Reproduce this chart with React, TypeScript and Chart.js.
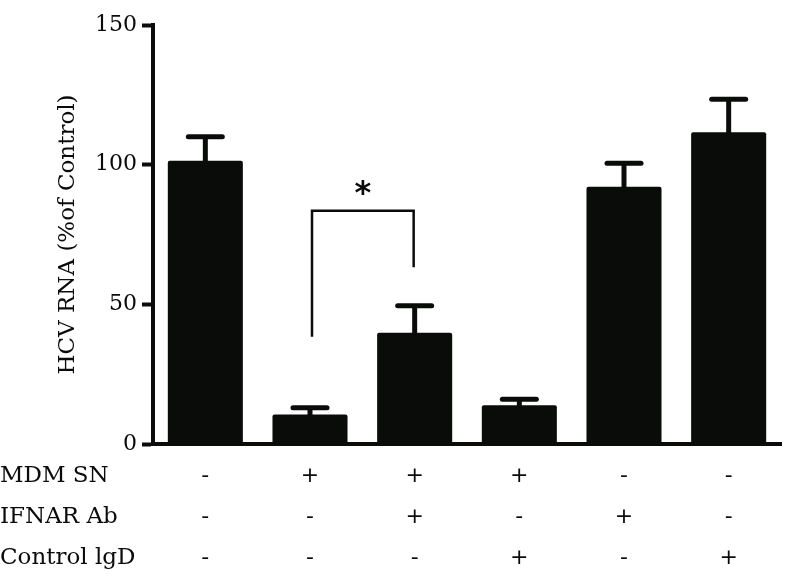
import React, { useEffect, useRef } from "react";
import { Chart, registerables } from "chart.js";

Chart.register(...registerables);

const categories = ["G1", "G2", "G3", "G4", "G5", "G6"];
const meanValues = [101.4, 10.6, 39.8, 13.9, 92.1, 111.6];
const errorTops = [110, 13, 49.5, 16, 100.5, 123.4];
const yTicks = [0, 50, 100, 150];
const rowNames = ["MDM SN", "IFNAR Ab", "Control lgD"];
const mdmRow = ["-", "+", "+", "+", "-", "-"];
const ifnarRow = ["-", "-", "+", "-", "+", "-"];
const controlRow = ["-", "-", "-", "+", "-", "+"];
const bracketFrom = 1;
const bracketTo = 2;
const bracketTop = 83.5;
const bracketLeftBottom = 38.4;
const bracketRightBottom = 63.3;
const starValue = 91.3;
const starText = "*";
const yTitle = "HCV RNA (%of Control)";

const INK = "#0a0c0a";
const SERIF = "'DejaVu Serif', serif";
const LINE_H = 41;
const X_PAD = 12;

const overlay = {
  id: "overlay",
  afterDatasetsDraw(chart: any) {
    const ctx = chart.ctx;
    const x = chart.scales.x;
    const y = chart.scales.y;
    ctx.save();
    ctx.fillStyle = INK;
    ctx.strokeStyle = INK;
    // error bars
    meanValues.forEach((v, i) => {
      const cx = x.getPixelForValue(i);
      const yTop = y.getPixelForValue(errorTops[i]);
      const yBar = y.getPixelForValue(v);
      ctx.lineWidth = 5;
      ctx.lineCap = "butt";
      ctx.beginPath();
      ctx.moveTo(cx, yBar + 2);
      ctx.lineTo(cx, yTop);
      ctx.stroke();
      ctx.lineCap = "round";
      ctx.beginPath();
      ctx.moveTo(cx - 17, yTop);
      ctx.lineTo(cx + 17, yTop);
      ctx.stroke();
    });
    // bracket
    const lx = x.getPixelForValue(bracketFrom) + 2;
    const rx = x.getPixelForValue(bracketTo) - 1;
    ctx.lineWidth = 2.5;
    ctx.lineCap = "butt";
    ctx.lineJoin = "miter";
    ctx.beginPath();
    ctx.moveTo(lx, y.getPixelForValue(bracketLeftBottom));
    ctx.lineTo(lx, y.getPixelForValue(bracketTop));
    ctx.lineTo(rx, y.getPixelForValue(bracketTop));
    ctx.lineTo(rx, y.getPixelForValue(bracketRightBottom));
    ctx.stroke();
    ctx.font = "bold 32px 'DejaVu Sans', sans-serif";
    ctx.textAlign = "center";
    ctx.textBaseline = "alphabetic";
    ctx.fillText(starText, (lx + rx) / 2, y.getPixelForValue(starValue) + 14);
    // row labels
    ctx.font = "23px " + SERIF;
    ctx.textAlign = "left";
    ctx.textBaseline = "middle";
    rowNames.forEach((name, r) => {
      ctx.fillText(name, 0, x.top + X_PAD + LINE_H / 2 + r * LINE_H);
    });
    ctx.restore();
  },
};

export default function App() {
  const ref = useRef<HTMLCanvasElement>(null);
  useEffect(() => {
    if (!ref.current) return;
    const chart = new Chart(ref.current, {
      type: "bar",
      data: {
        labels: categories,
        datasets: [
          {
            data: meanValues,
            backgroundColor: INK,
            borderWidth: 0,
            borderRadius: 2,
            barPercentage: 0.717,
            categoryPercentage: 1,
          },
        ],
      },
      options: {
        animation: false,
        responsive: false,
        devicePixelRatio: 1,
        layout: { padding: { left: 0, right: 13, top: 25, bottom: 0 } },
        plugins: { legend: { display: false }, tooltip: { enabled: false } },
        scales: {
          x: {
            grid: { display: true, drawOnChartArea: false, drawTicks: false, color: INK },
            border: { display: true, width: 4, color: INK },
            ticks: {
              padding: X_PAD,
              color: INK,
              maxRotation: 0,
              autoSkip: false,
              font: { family: "'DejaVu Sans', sans-serif", size: 22, lineHeight: LINE_H + "px" },
              callback: (_v: any, i: number) => [mdmRow[i], ifnarRow[i], controlRow[i]],
            },
            afterFit: (s: any) => {
              s.height = 144;
            },
          },
          y: {
            min: 0,
            max: 150,
            afterBuildTicks: (s: any) => {
              s.ticks = yTicks.map((v) => ({ value: v }));
            },
            grid: {
              display: true,
              drawOnChartArea: false,
              drawTicks: true,
              tickLength: 11,
              tickWidth: 4,
              tickColor: INK,
              color: INK,
            },
            border: { display: true, width: 4, color: INK },
            ticks: {
              padding: 5,
              color: INK,
              font: { family: SERIF, size: 22 },
            },
            title: {
              display: true,
              text: yTitle,
              color: INK,
              font: { family: SERIF, size: 23 },
              padding: { top: 54, bottom: 0 },
            },
            afterFit: (s: any) => {
              s.width = 153;
            },
          },
        },
      },
      plugins: [overlay],
    });
    return () => chart.destroy();
  }, []);
  return (
    <div style={{ position: "absolute", left: 0, top: 0, width: 794, height: 588, background: "#fff" }}>
      <canvas ref={ref} width={794} height={588} />
    </div>
  );
}
